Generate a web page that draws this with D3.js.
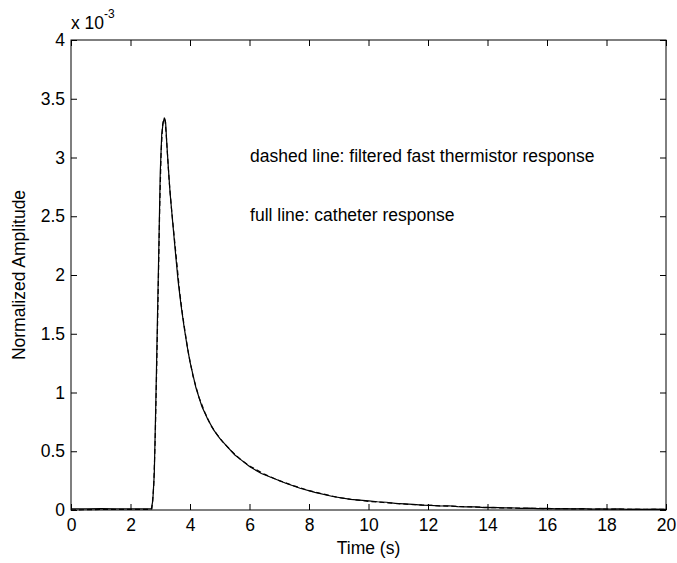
<!DOCTYPE html>
<html>
<head>
    <title>Catheter vs thermistor response</title>
    <script src="https://d3js.org/d3.v7.min.js"></script>
    <style>
        body { margin: 0; background: #fff; }
        text { font-family: "Liberation Sans", Arial, Helvetica, sans-serif; fill: #000; }
    </style>
</head>
<body>
    <div id="chart"></div>
    <script>
// amplitudes in units of 1e-3 (axis shows "x 10^-3")
const catheterTime = [0, 0.5, 1, 1.5, 2, 2.5, 2.7, 2.75, 2.8, 2.85, 2.9, 2.95, 3.0, 3.05, 3.1, 3.14,
    3.18, 3.22, 3.27, 3.33, 3.4, 3.5, 3.6, 3.7, 3.8, 3.9, 4.0, 4.2, 4.4, 4.6, 4.8, 5.0, 5.25, 5.5,
    5.75, 6.0, 6.4, 6.8, 7.2, 7.7, 8.2, 8.8, 9.4, 10, 10.3, 10.6, 10.9, 11.2, 11.5, 11.8, 12.1, 12.4,
    12.7, 13, 13.3, 13.6, 13.9, 14.2, 14.5, 14.8, 15.1, 15.4, 15.7, 16, 16.3, 16.6, 16.9, 17.2, 17.5,
    17.8, 18.1, 18.4, 18.7, 19, 19.3, 19.6, 20];
const catheterAmp = [0.01, 0.01, 0.012, 0.01, 0.01, 0.01, 0.01, 0.08, 0.31, 0.9, 1.55, 2.2, 2.87, 3.2, 3.3, 3.34,
    3.3, 3.12, 2.92, 2.7, 2.5, 2.22, 1.95, 1.74, 1.56, 1.4, 1.26, 1.04, 0.88, 0.77, 0.68, 0.61, 0.54, 0.47,
    0.42, 0.37, 0.31, 0.27, 0.23, 0.185, 0.15, 0.115, 0.09, 0.078, 0.07, 0.066, 0.057, 0.052, 0.048, 0.041, 0.04, 0.034,
    0.036, 0.029, 0.027, 0.026, 0.021, 0.022, 0.018, 0.019, 0.014, 0.016, 0.012, 0.013, 0.01, 0.012, 0.009, 0.011, 0.008,
    0.01, 0.007, 0.009, 0.006, 0.008, 0.005, 0.007, 0.005];

const thermTime = [0, 1, 2, 2.6, 2.72, 2.78, 2.83, 2.88, 2.93, 2.98, 3.03, 3.08, 3.12, 3.16, 3.2, 3.25,
    3.3, 3.38, 3.46, 3.55, 3.65, 3.75, 3.85, 3.95, 4.1, 4.3, 4.5, 4.7, 4.9, 5.1, 5.4, 5.7, 6.0, 6.5,
    7.0, 7.5, 8.0, 8.5, 9.0, 9.5, 10, 10.5, 11, 11.5, 12, 12.5, 13, 13.5, 14, 14.5, 15, 15.5, 16,
    16.5, 17, 17.5, 18, 18.5, 19, 19.5, 20];
const thermAmp = [0.0, 0.005, 0.005, 0.005, 0.01, 0.2, 0.6, 1.2, 1.85, 2.55, 3.05, 3.28, 3.33, 3.32, 3.2, 3.0,
    2.8, 2.56, 2.35, 2.12, 1.86, 1.66, 1.49, 1.33, 1.14, 0.96, 0.83, 0.72, 0.645, 0.58, 0.5, 0.43, 0.375, 0.305,
    0.25, 0.205, 0.165, 0.135, 0.105, 0.088, 0.074, 0.064, 0.054, 0.046, 0.04, 0.035, 0.03, 0.026, 0.022, 0.018,
    0.016, 0.014, 0.012, 0.011, 0.01, 0.008, 0.008, 0.007, 0.006, 0.006, 0.005];

const xTicks = [0, 2, 4, 6, 8, 10, 12, 14, 16, 18, 20];
const yTicks = [0, 0.5, 1, 1.5, 2, 2.5, 3, 3.5, 4];

const notes = ["dashed line: filtered fast thermistor response", "full line: catheter response"];

const svg = d3.select("#chart").append("svg").attr("width", 677).attr("height", 563);
const margin = { top: 40, right: 11, bottom: 53, left: 71 };
const width = +svg.attr("width") - margin.left - margin.right;
const height = +svg.attr("height") - margin.top - margin.bottom;

const x = d3.scaleLinear().domain([0, 20]).range([0, width]);
const y = d3.scaleLinear().domain([0, 4]).range([height, 0]);

const g = svg.append("g").attr("transform", `translate(${margin.left},${margin.top})`);

const fontSize = 17.5;
const tickLen = 6;

// axes, matlab style: ticks point inwards, on all four sides
const styleAxis = sel => {
    sel.select(".domain").remove();
    sel.selectAll("line").attr("stroke", "#000");
    sel.selectAll("text").style("font-size", fontSize + "px");
};

g.append("g").attr("transform", `translate(0,${height})`)
    .call(d3.axisBottom(x).tickValues(xTicks).tickSize(-tickLen).tickPadding(9).tickFormat(d3.format("d")))
    .call(styleAxis);
g.append("g")
    .call(d3.axisTop(x).tickValues(xTicks).tickSize(-tickLen).tickFormat(""))
    .call(styleAxis);
g.append("g")
    .call(d3.axisLeft(y).tickValues(yTicks).tickSize(-tickLen).tickPadding(6).tickFormat(d => d3.format("")(d)))
    .call(styleAxis);
g.append("g").attr("transform", `translate(${width},0)`)
    .call(d3.axisRight(y).tickValues(yTicks).tickSize(-tickLen).tickFormat(""))
    .call(styleAxis);

g.append("rect").attr("width", width).attr("height", height)
    .attr("fill", "none").attr("stroke", "#000").attr("stroke-width", 1);

// curves
const line = d3.line().x(d => x(d[0])).y(d => y(d[1]));

g.append("path")
    .datum(thermTime.map((t, i) => [t, thermAmp[i]]))
    .attr("d", line)
    .attr("fill", "none").attr("stroke", "#000").attr("stroke-width", 1.2)
    .attr("stroke-dasharray", "5,3");

g.append("path")
    .datum(catheterTime.map((t, i) => [t, catheterAmp[i]]))
    .attr("d", line)
    .attr("fill", "none").attr("stroke", "#000").attr("stroke-width", 1.2);

// annotations
g.selectAll(".note")
    .data(notes)
    .enter().append("text")
    .attr("class", "note")
    .attr("x", x(6.02))
    .attr("y", (d, i) => y(i === 0 ? 2.96 : 2.46))
    .style("font-size", fontSize + "px")
    .text(d => d);

// axis labels
svg.append("text")
    .attr("x", margin.left + width / 2).attr("y", 554)
    .attr("text-anchor", "middle").style("font-size", fontSize + "px")
    .text("Time (s)");

svg.append("text")
    .attr("transform", `translate(25,${margin.top + height / 2}) rotate(-90)`)
    .attr("text-anchor", "middle").style("font-size", fontSize + "px")
    .text("Normalized Amplitude");

// exponent label
const expo = svg.append("text").attr("x", margin.left).attr("y", 29).style("font-size", fontSize + "px");
expo.append("tspan").text("x 10");
expo.append("tspan").attr("dy", -11).style("font-size", "12px").text("-3");
    </script>
</body>
</html>
